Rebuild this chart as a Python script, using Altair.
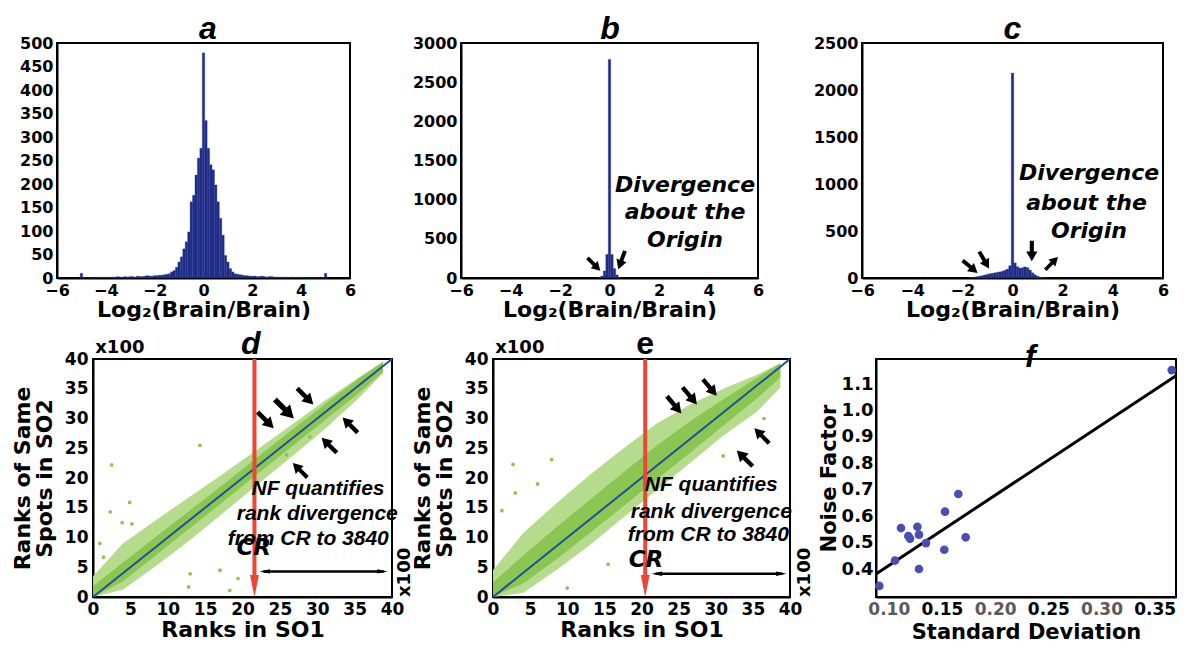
import altair as alt
import pandas as pd

# ---------------- data ----------------
# panel a: histogram (bin centres, counts), bin width 0.1
A_CENTERS = [round(-5.0 + 0.1 * i, 1) for i in range(101)]
A_COUNTS = [10,
            1, 0, 1, 1, 0, 2, 1, 1, 2, 1,
            2, 1, 2, 2, 3, 2, 2, 3, 2, 3,
            3, 2, 4, 3, 3, 4, 5, 4, 4, 5,
            5, 6, 6, 7, 8,
            9, 13, 16, 23, 34, 45, 62, 77, 98, 162, 176, 219, 255, 276,
            479,
            335, 276, 241, 230, 198, 162, 127, 91, 48, 34, 20, 13, 9, 8, 7,
            6, 5, 5, 4, 4,
            4, 3, 3, 4, 3, 2, 3, 3, 2, 2,
            2, 2, 1, 2, 1, 2, 1, 1, 2, 1,
            1, 1, 0, 1, 1, 0, 1, 0, 1,
            10]
# panel b
B_CENTERS = [-0.4, -0.3, -0.2, -0.1, 0.0, 0.1, 0.2, 0.3, 0.4]
B_COUNTS = [8, 25, 90, 300, 2790, 300, 120, 40, 10]
# panel c
C_CENTERS = [round(-1.7 + 0.1 * i, 1) for i in range(32)]
C_COUNTS = [3, 6, 10, 15, 20, 25, 32, 40, 45, 50, 55, 60, 65, 72, 82, 95, 130,
            2180,
            160, 120, 105, 110, 118, 110, 85, 55, 35, 20, 10, 6, 3, 2]

# panel d: rank scatter cloud envelope (x100)
D_X = [0, 4.0, 8.5, 13.0, 17.5, 21.9, 26.4, 30.8, 35.3, 38.8]
D_HI = [3.5, 9.0, 13.0, 16.9, 20.8, 24.7, 28.8, 32.8, 36.7, 39.6]
D_LO = [0.0, 1.2, 5.3, 9.6, 14.2, 18.8, 23.4, 28.0, 33.1, 37.6]
D_CORE_HI = [1.8, 5.8, 10.2, 14.6, 19.0, 23.4, 27.9, 32.2, 36.5, 39.5]
D_CORE_LO = [0.0, 2.6, 7.1, 11.6, 16.1, 20.6, 25.1, 29.5, 34.0, 37.8]
D_OUT_X = [2.5, 14.3, 4.9, 2.3, 3.9, 5.2, 12.8, 17.0, 18.3, 13.0, 29.0, 25.9, 0.9, 1.4, 19.4, 10.7]
D_OUT_Y = [22.2, 25.5, 15.9, 14.3, 12.5, 12.3, 1.7, 4.5, 1.1, 3.9, 26.9, 23.9, 9.0, 6.7, 3.1, 10.9]

# panel e
E_X = [0, 4.1, 8.6, 13.1, 17.5, 22.0, 26.5, 31.0, 35.5, 38.7]
E_HI = [4.5, 10.8, 15.8, 20.6, 24.9, 29.1, 32.3, 35.0, 37.3, 39.3]
E_LO = [0.0, 0.7, 4.6, 8.8, 13.3, 17.9, 22.5, 27.1, 31.1, 35.2]
E_CORE_HI = [2.5, 7.0, 11.8, 16.4, 20.9, 25.4, 29.5, 33.2, 36.8, 39.3]
E_CORE_LO = [0.0, 2.3, 6.4, 10.8, 15.2, 19.7, 24.2, 28.8, 33.3, 36.9]
E_OUT_X = [2.7, 7.9, 1.2, 31.0, 3.0, 6.0, 10.0, 15.5, 36.5]
E_OUT_Y = [22.3, 23.1, 14.5, 23.7, 17.5, 19.0, 1.5, 5.5, 30.0]

# panel f
F_SD = [0.0911, 0.1059, 0.1115, 0.1184, 0.1200, 0.1269, 0.1284, 0.1284, 0.1350,
        0.1522, 0.1529, 0.1654, 0.1723, 0.3660]
F_NF = [0.336, 0.432, 0.555, 0.525, 0.515, 0.560, 0.530, 0.400, 0.498,
        0.473, 0.617, 0.684, 0.520, 1.153]
F_FIT_X = [0.088, 0.370]
F_FIT_Y = [0.381, 1.132]

# annotation arrows (x, y, angle, size)
B_ARW = {"x": [-0.63, 0.49], "y": [175, 230], "a": [135, 200], "s": [330, 380]}
C_ARW = {"x": [-1.69, -1.13, 0.77, 1.56], "y": [120, 191, 287, 156],
         "a": [130, 150, 180, 45], "s": [380, 380, 420, 320]}
D_ARW = {"x": [23.1, 25.6, 28.4, 34.4, 31.6, 27.7], "y": [29.7, 31.6, 33.7, 28.9, 25.5, 21.3],
         "a": [135, 135, 135, 315, 315, 315], "s": [520, 720, 520, 460, 460, 420]}
E_ARW = {"x": [24.4, 26.5, 29.2, 36.2, 33.9], "y": [32.3, 33.8, 35.2, 27.1, 23.3],
         "a": [140, 140, 140, 315, 315], "s": [500, 500, 460, 440, 500]}

FONT = "DejaVu Sans"
BAR = "#1f2d87"
GREEN_OUT = "#b4dc8c"
GREEN_CORE = "#8cc652"
RED = "#ee4535"
ARROW = "M-0.2,1L0.2,1L0.2,-0.05L0.55,-0.05L0,-1L-0.55,-0.05L-0.2,-0.05Z"
DOWN_HEAD = "M-0.4,-1L0.4,-1L0,1Z"
LEFT_HEAD = "M1,-0.42L1,0.42L-1,0Z"
RIGHT_HEAD = "M-1,-0.42L-1,0.42L1,0Z"


def arrows(dct, xs, ys, xax, yax):
    df = pd.DataFrame(dct)
    return alt.Chart(df).mark_point(shape=ARROW, filled=True, color="black",
                                    opacity=1, strokeWidth=0).encode(
        x=alt.X("x:Q", scale=xs, axis=xax), y=alt.Y("y:Q", scale=ys, axis=yax),
        angle=alt.Angle("a:Q", scale=None), size=alt.Size("s:Q", scale=None, legend=None))


def texts(xv, yv, tv, xs, ys, xax, yax, **kw):
    df = pd.DataFrame({"x": xv, "y": yv, "t": tv})
    return alt.Chart(df).mark_text(**kw).encode(
        x=alt.X("x:Q", scale=xs, axis=xax), y=alt.Y("y:Q", scale=ys, axis=yax), text="t:N")


def letter_mark(letter, tx, ty, style, dy, xs, ys, xax, yax):
    return texts([tx], [ty], [letter], xs, ys, xax, yax, font="Liberation Sans",
                 fontSize=32, fontWeight="bold", fontStyle=style, align="center",
                 baseline="alphabetic", dy=dy, color="black")


def hist(centers, counts, ymax, ystep, letter, tx, w, h, ann=None, arr=None):
    df = pd.DataFrame({"c": centers, "n": counts})
    df["x0"] = df["c"] - 0.05
    df["x1"] = df["c"] + 0.05
    df["z"] = 0
    xs = alt.Scale(domain=[-6, 6], nice=False, zero=False)
    ys = alt.Scale(domain=[0, ymax], nice=False)
    xax = alt.Axis(values=[-6, -4, -2, 0, 2, 4, 6], title="Log\u2082(Brain/Brain)",
                   titleFontSize=22, titlePadding=1)
    yax = alt.Axis(values=list(range(0, ymax + 1, ystep)), title=None, format="d")
    layers = [alt.Chart(df).mark_bar(color=BAR, stroke=BAR, strokeWidth=0.3).encode(
        x=alt.X("x0:Q", scale=xs, axis=xax), x2="x1",
        y=alt.Y("n:Q", scale=ys, axis=yax), y2="z")]
    if ann is not None:
        layers.append(texts(ann[0], ann[1], ann[2], xs, ys, xax, yax, font=FONT,
                            fontSize=22, fontWeight="bold", fontStyle="italic",
                            align="center", baseline="middle", color="black"))
    if arr is not None:
        layers.append(arrows(arr, xs, ys, xax, yax))
    layers.append(letter_mark(letter, tx, ymax, "italic", -4, xs, ys, xax, yax))
    return alt.layer(*layers).properties(width=w, height=h)


def rank(letter, style, tx, w, h, ex, hi, lo, chi, clo, ox, oy, cr_x, nf, cr, dbl, arr, x100r):
    xs = alt.Scale(domain=[0, 40], nice=False, zero=False)
    ys = alt.Scale(domain=[0, 40], nice=False, zero=False)
    ticks = list(range(0, 41, 5))
    xax = alt.Axis(values=ticks, title="Ranks in SO1", labelFontSize=17,
                   titleFontSize=22, labelPadding=4, titlePadding=2)
    yax = alt.Axis(values=ticks, title=["Ranks of Same", "Spots in SO2"],
                   labelFontSize=17, titleFontSize=22, titleLineHeight=22,
                   labelPadding=5, titlePadding=8)
    env = pd.DataFrame({"x": ex, "hi": hi, "lo": lo, "chi": chi, "clo": clo})
    outer = alt.Chart(env).mark_area(color=GREEN_OUT, opacity=1).encode(
        x=alt.X("x:Q", scale=xs, axis=xax), y=alt.Y("hi:Q", scale=ys, axis=yax), y2="lo")
    core = alt.Chart(env).mark_area(color=GREEN_CORE, opacity=1).encode(
        x=alt.X("x:Q", scale=xs, axis=xax), y=alt.Y("chi:Q", scale=ys, axis=yax), y2="clo")
    pts = alt.Chart(pd.DataFrame({"x": ox, "y": oy})).mark_point(
        shape="circle", filled=True, color=GREEN_CORE, opacity=1, size=14).encode(
        x=alt.X("x:Q", scale=xs, axis=xax), y=alt.Y("y:Q", scale=ys, axis=yax))
    diag = alt.Chart(pd.DataFrame({"x": [0, 40], "y": [0, 40]})).mark_line(
        color="#1d4f9a", strokeWidth=2).encode(
        x=alt.X("x:Q", scale=xs, axis=xax), y=alt.Y("y:Q", scale=ys, axis=yax))
    red = alt.Chart(pd.DataFrame({"x": [cr_x], "y": [3.4], "y2": [40]})).mark_rule(
        color=RED, strokeWidth=4).encode(
        x=alt.X("x:Q", scale=xs, axis=xax), y=alt.Y("y:Q", scale=ys, axis=yax), y2="y2")
    head = alt.Chart(pd.DataFrame({"x": [cr_x], "y": [1.85]})).mark_point(
        shape=DOWN_HEAD, filled=True, color=RED, opacity=1, size=484, strokeWidth=0).encode(
        x=alt.X("x:Q", scale=xs, axis=xax), y=alt.Y("y:Q", scale=ys, axis=yax))
    dbl_line = alt.Chart(pd.DataFrame({"x": [dbl[0] + 0.5], "x2": [dbl[1] - 0.5],
                                       "y": [dbl[2]]})).mark_rule(
        color="black", strokeWidth=2.5).encode(
        x=alt.X("x:Q", scale=xs, axis=xax), x2="x2", y=alt.Y("y:Q", scale=ys, axis=yax))
    lh = alt.Chart(pd.DataFrame({"x": [dbl[0] + 0.67], "y": [dbl[2]]})).mark_point(
        shape=LEFT_HEAD, filled=True, color="black", opacity=1, size=110, strokeWidth=0).encode(
        x=alt.X("x:Q", scale=xs, axis=xax), y=alt.Y("y:Q", scale=ys, axis=yax))
    rh = alt.Chart(pd.DataFrame({"x": [dbl[1] - 0.67], "y": [dbl[2]]})).mark_point(
        shape=RIGHT_HEAD, filled=True, color="black", opacity=1, size=110, strokeWidth=0).encode(
        x=alt.X("x:Q", scale=xs, axis=xax), y=alt.Y("y:Q", scale=ys, axis=yax))
    nf_t = texts(nf[0], nf[1], nf[2], xs, ys, xax, yax, font="Liberation Sans",
                 fontSize=21, fontWeight="bold", fontStyle="italic", align="center",
                 baseline="middle", color="black")
    cr_t = texts([cr[0]], [cr[1]], ["CR"], xs, ys, xax, yax, font=FONT, fontSize=23,
                 fontWeight="bold", fontStyle="italic", align="center",
                 baseline="middle", color="black")
    x100a = texts([0.3], [40], ["x100"], xs, ys, xax, yax, font=FONT, fontSize=18,
                  fontWeight="bold", align="left", baseline="bottom", dy=-2, color="black")
    x100b = texts([x100r], [0], ["x100"], xs, ys, xax, yax, font=FONT, fontSize=18,
                  fontWeight="bold", align="left", baseline="middle", angle=270,
                  color="black")
    arw = arrows(arr, xs, ys, xax, yax)
    ttl = letter_mark(letter, tx, 40, style, -5, xs, ys, xax, yax)
    return alt.layer(outer, core, pts, diag, red, head, dbl_line, lh, rh, nf_t, cr_t,
                     x100a, x100b, arw, ttl).properties(width=w, height=h)


def noise(w, h):
    xs = alt.Scale(domain=[0.088, 0.370], nice=False, zero=False)
    ys = alt.Scale(domain=[0.294, 1.195], nice=False, zero=False)
    xax = alt.Axis(values=[0.10, 0.15, 0.20, 0.25, 0.30, 0.35], format=".2f",
                   title="Standard Deviation", labelFontSize=17, titleFontSize=21,
                   labelPadding=4, titlePadding=4,
                   labelColor={"condition": {"test": "round(datum.value * 100) % 10 == 0",
                                             "value": "#5a5a5a"}, "value": "black"})
    yax = alt.Axis(values=[0.4, 0.5, 0.6, 0.7, 0.8, 0.9, 1.0, 1.1], format=".1f",
                   title="Noise Factor", labelFontSize=18, titleFontSize=21,
                   labelPadding=3, titlePadding=2)
    pts = alt.Chart(pd.DataFrame({"x": F_SD, "y": F_NF})).mark_point(
        shape="circle", filled=True, color="#4a4db3", opacity=1, size=75).encode(
        x=alt.X("x:Q", scale=xs, axis=xax), y=alt.Y("y:Q", scale=ys, axis=yax))
    fit = alt.Chart(pd.DataFrame({"x": F_FIT_X, "y": F_FIT_Y})).mark_line(
        color="black", strokeWidth=3).encode(
        x=alt.X("x:Q", scale=xs, axis=xax), y=alt.Y("y:Q", scale=ys, axis=yax))
    ttl = letter_mark("f", 0.233, 1.195, "italic", 8, xs, ys, xax, yax)
    return alt.layer(fit, pts, ttl).properties(width=w, height=h)


def spacer(w, h):
    return alt.Chart(pd.DataFrame({"v": [0]})).mark_point(opacity=0).encode(
        x=alt.X("v:Q", axis=None), y=alt.Y("v:Q", axis=None)
    ).properties(width=w, height=h, view=alt.ViewBackground(strokeOpacity=0))


H1, H2 = 235, 238
pa = hist(A_CENTERS, A_COUNTS, 500, 50, "a", 0.18, 293, H1)
pb = hist(B_CENTERS, B_COUNTS, 3000, 500, "b", 0.02, 297, H1,
          ann=([3.05, 3.05, 3.05], [1190, 845, 480], ["Divergence", "about the", "Origin"]),
          arr=B_ARW)
pc = hist(C_CENTERS, C_COUNTS, 2500, 500, "c", 0.0, 301, H1,
          ann=([3.05, 2.95, 3.05], [1115, 800, 500], ["Divergence", "about the", "Origin"]),
          arr=C_ARW)

pd_ = rank("d", "italic", 21.1, 299, H2, D_X, D_HI, D_LO, D_CORE_HI, D_CORE_LO, D_OUT_X, D_OUT_Y,
           21.6, ([30.1, 30.0, 28.8], [18.2, 14.0, 9.8],
                  ["NF quantifies", "rank divergence", "from CR to 3840"]),
           (21.5, 8.2), (22.3, 39.4, 4.3), D_ARW, 41.8)
pe = rank("e", "normal", 20.5, 297, H2, E_X, E_HI, E_LO, E_CORE_HI, E_CORE_LO, E_OUT_X, E_OUT_Y,
          20.5, ([29.4, 29.4, 29.0], [18.8, 14.3, 10.4],
                 ["NF quantifies", "rank divergence", "from CR to 3840"]),
          (20.6, 6.2), (21.4, 39.5, 3.9), E_ARW, 42.0)
pf = noise(300, H2)

row1 = alt.hconcat(pa, spacer(111, H1), pb, spacer(104, H1), pc, spacing=0, bounds="flush")
row2 = alt.hconcat(spacer(36, H2), pd_, spacer(101, H2), pe, spacer(86, H2), pf,
                   spacing=0, bounds="flush")

# nested rows count as zero height in a flush layout: a vertical spacer sets the row offset
chart = alt.vconcat(row1, spacer(10, H1 + 81), row2, spacing=0, bounds="flush").properties(
    autosize=alt.AutoSizeParams(type="pad"),
    padding={"left": 10, "top": 12, "right": 0, "bottom": 0},
    background="white",
).configure_view(stroke="black", strokeWidth=2).configure_axis(
    labelFont=FONT, labelFontSize=16, labelFontWeight="bold", labelColor="black",
    titleFont=FONT, titleFontWeight="bold", titleColor="black",
    domainColor="black", domainWidth=2, ticks=False, grid=False,
    labelFlush=False, labelOverlap=False, labelPadding=4,
)

chart.save("out.html", embed_options={"renderer": "svg", "actions": False})
